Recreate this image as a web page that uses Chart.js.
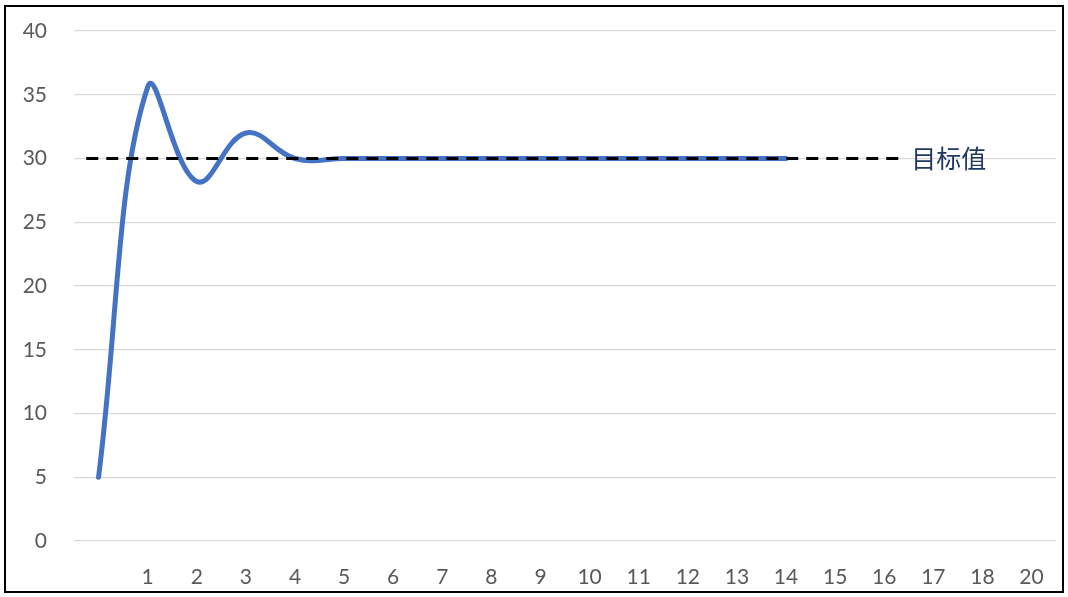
<!DOCTYPE html>
<html>
<head>
<meta charset="utf-8">
<script src="https://cdn.jsdelivr.net/npm/chart.js@4/dist/chart.umd.min.js"></script>
<style>
  body{ margin:0; background:#fff; }
  #wrap{ position:relative; width:1068px; height:597px; }
  #frame{ position:absolute; left:4px; top:5px; width:1060px; height:588px; box-sizing:border-box; border:2px solid #000; pointer-events:none; }
</style>
</head>
<body>
<div id="wrap">
  <canvas id="chart" width="1068" height="597"></canvas>
  <div id="frame"></div>
</div>
<script>
// category labels along x (Excel skipped 19)
const tickLabels = ['', '1', '2', '3', '4', '5', '6', '7', '8', '9', '10', '11', '12', '13', '14', '15', '16', '17', '18', '20'];
// response curve
const stepX = [0, 1, 2, 3, 4, 5, 6, 7, 8, 9, 10, 11, 12, 13, 14];
const stepY = [5, 35.6, 28.2, 32, 30, 30, 30, 30, 30, 30, 30, 30, 30, 30, 30];
// target line
const targetX = [-0.25, 16.4];
const targetY = [30, 30];
const targetName = '目标值';
const targetLabelX = 16.55;

let stepData = stepX.map((x, i) => ({x: x, y: stepY[i]}));
let targetData = targetX.map((x, i) => ({x: x, y: targetY[i]}));

const targetLabel = {
  id: 'targetLabel',
  afterDatasetsDraw(chart){
    let ctx = chart.ctx;
    let px = chart.scales.x.getPixelForValue(targetLabelX);
    let py = chart.scales.y.getPixelForValue(targetY[1]);
    ctx.save();
    ctx.font = '25px "Noto Sans CJK SC"';
    ctx.fillStyle = '#203864';
    ctx.textBaseline = 'middle';
    ctx.textAlign = 'left';
    ctx.fillText(targetName, px, py);
    ctx.restore();
  }
};

new Chart(document.getElementById('chart'), {
  type: 'line',
  data: {
    datasets: [{
      data: targetData,
      borderColor: '#000000',
      borderWidth: 3,
      borderDash: [12, 8],
      pointRadius: 0,
      tension: 0
    }, {
      data: stepData,
      borderColor: '#4472C4',
      borderWidth: 5,
      pointRadius: 0,
      tension: 0.4,
      borderCapStyle: 'round'
    }]
  },
  options: {
    responsive: false,
    animation: false,
    layout: { padding: { left: 0, right: 11, top: 31, bottom: 6 } },
    plugins: { legend: { display: false }, tooltip: { enabled: false } },
    scales: {
      x: {
        type: 'linear',
        min: -0.5,
        max: 19.5,
        afterFit(scale){ scale.height = 50; },
        afterBuildTicks(scale){ scale.ticks = tickLabels.map((t, i) => ({value: i})); },
        grid: { display: false, drawTicks: false },
        border: { display: false },
        ticks: {
          autoSkip: false,
          maxRotation: 0,
          padding: 24,
          color: '#595959',
          font: { family: 'Lato', size: 21 },
          callback: (v) => tickLabels[v]
        }
      },
      y: {
        min: 0,
        max: 40,
        afterFit(scale){
          scale.width = 74;
          scale.paddingTop = 0;
          scale.paddingBottom = 0;
        },
        grid: { color: '#d9d9d9', lineWidth: 1.3, drawTicks: false },
        border: { display: false },
        ticks: {
          stepSize: 5,
          padding: 27,
          color: '#595959',
          font: { family: 'Lato', size: 21 }
        }
      }
    }
  },
  plugins: [targetLabel]
});
</script>
</body>
</html>
